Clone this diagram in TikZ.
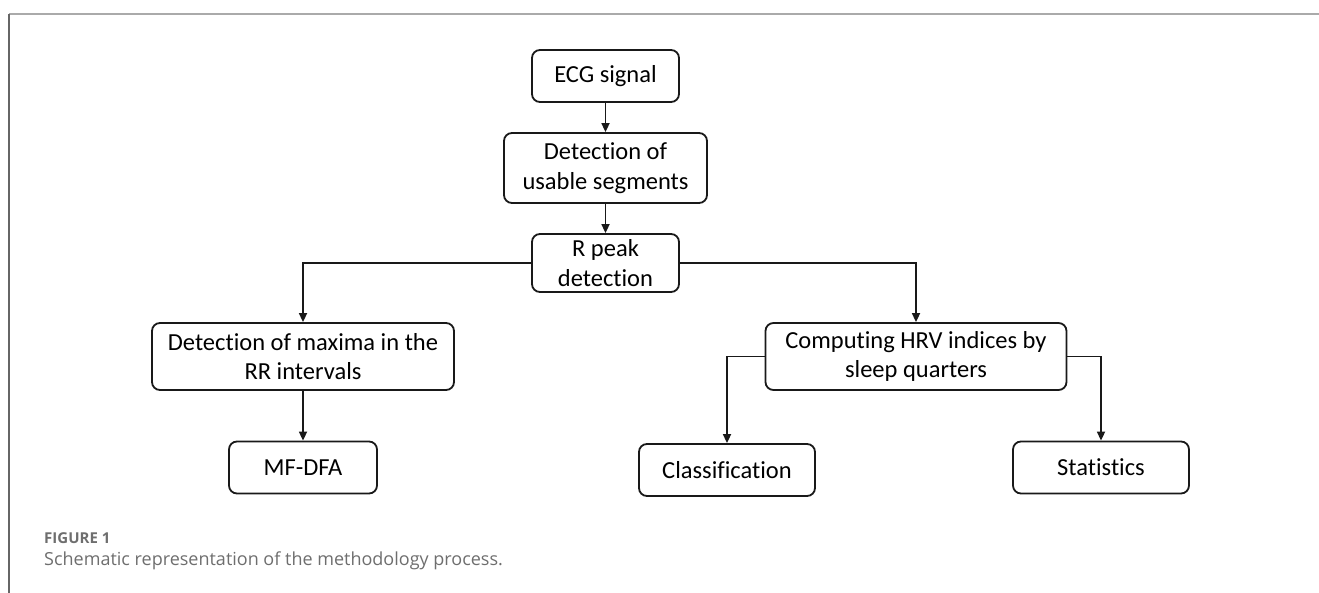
\documentclass[tikz,border=0pt]{standalone}
\usepackage{fontspec}
\setmainfont{Carlito}[Ligatures=NoCommon]
\newfontfamily\capfont{Open Sans}
\usetikzlibrary{arrows.meta}
\definecolor{framegray}{HTML}{AAAAAA}
\definecolor{leftgray}{HTML}{666666}
\definecolor{capgray}{HTML}{6E6E6E}
\tikzset{
  box/.style={draw=black!90, line width=1.8pt, rounded corners=8pt, align=center,
    inner sep=0pt, font=\fontsize{24.5}{29.5}\selectfont, text=black},
  conn/.style={draw=black!90, line width=1.7pt, -{Triangle[length=9pt,width=8pt]}},
}
\begin{document}
\begin{tikzpicture}[x=1pt,y=-1pt]
\useasboundingbox (0,0) rectangle (1319,593);
\draw[framegray, line width=1.8pt] (9,14) -- (1319,14);
\draw[leftgray, line width=1.2pt] (9,14) -- (9,593);

\node[box, minimum width=147pt, minimum height=52pt] (ecg) at (605.5,76) {ECG signal};
\node[box, minimum width=203pt, minimum height=70pt] (use) at (605.5,168) {Detection of\\usable segments};
\node[box, minimum width=147pt, minimum height=58pt] (rpk) at (605.5,263) {R peak\\detection};
\node[box, minimum width=302pt, minimum height=67pt] (max) at (303,356.5) {Detection of maxima in the\\RR intervals};
\node[box, minimum width=148pt, minimum height=52pt] (mf) at (303,467.5) {MF-DFA};
\node[box, minimum width=301pt, minimum height=67pt] (hrv) at (916,356.5) {Computing HRV indices by\\sleep quarters};
\node[box, minimum width=176pt, minimum height=52pt] (cls) at (727,470) {Classification};
\node[box, minimum width=176pt, minimum height=52pt] (sta) at (1101,467.5) {Statistics};

\draw[conn] (ecg.south) -- (use.north);
\draw[conn] (use.south) -- (rpk.north);
\draw[conn] (rpk.west) -| (max.north);
\draw[conn] (rpk.east) -| (hrv.north);
\draw[conn] (max.south) -- (mf.north);
\draw[conn] (hrv.west) -| (cls.north);
\draw[conn] (hrv.east) -| (sta.north);

\node[anchor=base west, inner sep=0pt, text=capgray, font=\capfont\fontsize{15}{17}\selectfont\bfseries] (fig) at (44,543) {FIGURE 1};
\node[anchor=base west, inner sep=0pt, text=capgray, font=\capfont\fontsize{18}{20}\selectfont] (cap) at (44,565) {Schematic representation of the methodology process.};
\end{tikzpicture}
\end{document}
